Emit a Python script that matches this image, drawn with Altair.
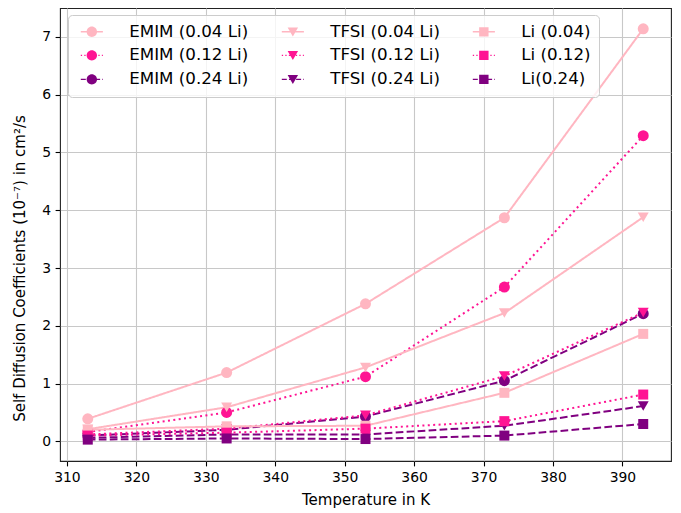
import altair as alt
import pandas as pd

# ---- data ----
temperatures = [313, 333, 353, 373, 393]

emim_004 = [0.39, 1.19, 2.38, 3.87, 7.14]
emim_012 = [0.16, 0.50, 1.12, 2.67, 5.29]
emim_024 = [0.10, 0.20, 0.43, 1.05, 2.21]
tfsi_004 = [0.21, 0.59, 1.28, 2.22, 3.88]
tfsi_012 = [0.12, 0.22, 0.45, 1.13, 2.23]
tfsi_024 = [0.06, 0.12, 0.12, 0.27, 0.61]
li_004 = [0.20, 0.26, 0.27, 0.84, 1.86]
li_012 = [0.10, 0.15, 0.22, 0.35, 0.81]
li_024 = [0.03, 0.05, 0.04, 0.10, 0.30]

series_names = ["EMIM (0.04 Li)", "EMIM (0.12 Li)", "EMIM (0.24 Li)",
                "TFSI (0.04 Li)", "TFSI (0.12 Li)", "TFSI (0.24 Li)",
                "Li (0.04)", "Li (0.12)", "Li(0.24)"]
series_values = [emim_004, emim_012, emim_024,
                 tfsi_004, tfsi_012, tfsi_024,
                 li_004, li_012, li_024]
series_marker = ["circle", "circle", "circle",
                 "triangle-down", "triangle-down", "triangle-down",
                 "square", "square", "square"]
series_color = ["#FFB6C1", "#FF1493", "#800080"] * 3
series_style = ["solid", "dotted", "dashed"] * 3

x_ticks = [310, 320, 330, 340, 350, 360, 370, 380, 390]
y_ticks = [0, 1, 2, 3, 4, 5, 6, 7]

dash_of = {"solid": [1, 0], "dotted": [2, 3.4], "dashed": [7.7, 3.3]}

# legend symbol geometry (1 unit ~ 7.3 px): filled dash segments + marker
PX = 1 / 7.3
HALF = 2.33
MK = 1.1


def segment_path(style):
    if style == "solid":
        on, off = 2 * HALF, 0.0
    else:
        on, off = dash_of[style][0] * PX, dash_of[style][1] * PX
    h = 1.1 * PX
    parts = []
    x = -HALF
    while x < HALF - 1e-6:
        x2 = min(x + on, HALF)
        parts.append(f"M{x:.3f},{-h:.3f}H{x2:.3f}V{h:.3f}H{x:.3f}Z")
        x += on + off
    return "".join(parts)


marker_path = {
    "circle": f"M{MK},0A{MK},{MK},0,1,1,{-MK},0A{MK},{MK},0,1,1,{MK},0Z",
    "triangle-down": f"M{-MK},{-0.85*MK:.3f}L{MK},{-0.85*MK:.3f}L0,{0.9*MK:.3f}Z",
    "square": f"M{-0.9*MK:.3f},{-0.9*MK:.3f}H{0.9*MK:.3f}V{0.9*MK:.3f}H{-0.9*MK:.3f}Z",
}

rows = []
for i, (name, vals) in enumerate(zip(series_names, series_values)):
    for t, v in zip(temperatures, vals):
        rows.append({"T": t, "D": v, "series": name,
                     "marker": series_marker[i], "idx": i})
df = pd.DataFrame(rows)

legend_shapes = [segment_path(s) + marker_path[m]
                 for s, m in zip(series_style, series_marker)]

# plot scales use a different domain order (kept as separate, hidden legends)
plot_idx = [0, 3, 6, 1, 4, 7, 2, 5, 8]
plot_domain = [series_names[i] for i in plot_idx]
plot_colors = [series_color[i] for i in plot_idx]
plot_dashes = [dash_of[series_style[i]] for i in plot_idx]

FONT = "DejaVu Sans"

x_enc = alt.X("T:Q", scale=alt.Scale(domain=[309, 397], nice=False, zero=False),
              axis=alt.Axis(values=x_ticks, title="Temperature in K", format="d"))
y_enc = alt.Y("D:Q", scale=alt.Scale(domain=[-0.34, 7.5], nice=False, zero=False),
              axis=alt.Axis(values=y_ticks,
                            title="Self Diffusion Coefficients (10\u207b\u2077) in cm\u00b2/s",
                            format="d", titleY=260))

plot_color_scale = alt.Scale(domain=plot_domain, range=plot_colors)
dash_scale = alt.Scale(domain=plot_domain, range=plot_dashes)

lines = alt.Chart(df).mark_line(strokeWidth=2, opacity=1).encode(
    x=x_enc, y=y_enc,
    color=alt.Color("series:N", scale=plot_color_scale, legend=None),
    strokeDash=alt.StrokeDash("series:N", scale=dash_scale, legend=None),
    detail="idx:O",
)

sizes = {"circle": 121, "triangle-down": 120, "square": 100}
point_layers = []
for shp in ["circle", "triangle-down", "square"]:
    point_layers.append(
        alt.Chart(df).transform_filter(alt.datum.marker == shp)
        .mark_point(filled=True, shape=shp, size=sizes[shp], opacity=1, strokeWidth=0)
        .encode(x=x_enc, y=y_enc,
                color=alt.Color("series:N", scale=plot_color_scale, legend=None),
                order=alt.Order("idx:Q"))
    )

LEG_SIZE = 90
legend_layer = alt.Chart(df).transform_filter("datum.T < 0").mark_point(
    filled=True, size=LEG_SIZE, opacity=1, strokeWidth=0
).encode(
    x=x_enc, y=y_enc,
    fill=alt.Fill("series:N", scale=alt.Scale(domain=series_names, range=series_color),
                  legend=alt.Legend(
                      title=None, orient="none", legendX=8, legendY=7, columns=3,
                      columnPadding=28, rowPadding=6, symbolOffset=7.5, labelOffset=29,
                      labelFont=FONT, labelFontSize=16.7, labelColor="black",
                      padding=8, strokeColor="#cccccc", fillColor="rgba(255,255,255,0.8)",
                      cornerRadius=4, symbolSize=LEG_SIZE, symbolStrokeWidth=0,
                      labelLimit=300)),
    shape=alt.Shape("series:N", scale=alt.Scale(domain=series_names, range=legend_shapes)),
)

chart = alt.layer(lines, *point_layers, legend_layer).properties(
    width=611, height=453,
    padding={"left": 52, "top": 0, "right": 2, "bottom": 50},
    autosize=alt.AutoSizeParams(type="none"),
    background="white",
).configure_view(
    stroke="#222222", strokeWidth=1.1, fill="white"
).configure_axis(
    labelFont=FONT, labelFontSize=13.9, labelColor="black",
    titleFont=FONT, titleFontSize=15, titleFontWeight="normal", titleColor="black",
    tickColor="black", tickSize=4.9, tickWidth=1.1, labelPadding=4.5,
    domain=False, grid=True, gridColor="#c8c8c8", gridWidth=1.1,
).configure_axisX(titlePadding=8).configure_axisY(titlePadding=14)

chart.save("out.html", embed_options={"renderer": "svg", "actions": False})
